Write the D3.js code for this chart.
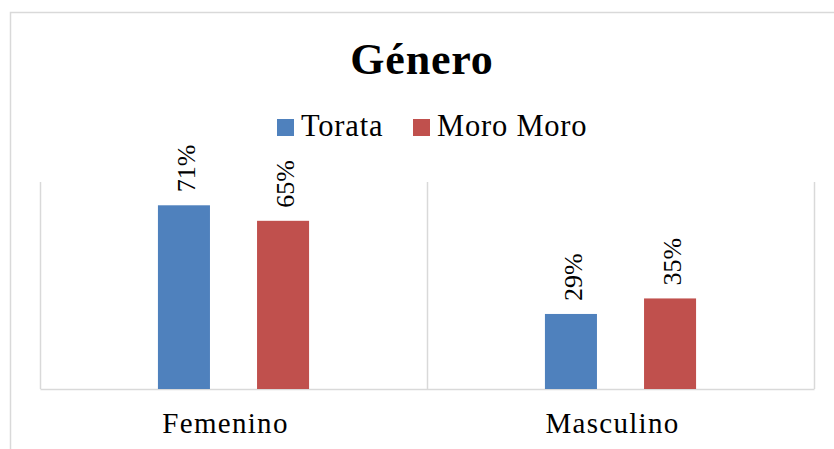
<!DOCTYPE html>
<meta charset="utf-8" />
<script src="https://d3js.org/d3.v7.min.js"></script>
<body style="margin:0;background:#fff">
  <div id="my_dataviz"></div>
  <script>
    // chart data
    const categories = ["Femenino", "Masculino"];
    const seriesNames = ["Torata", "Moro Moro"];
    const torata = [0.71, 0.29];
    const moroMoro = [0.65, 0.35];
    const colors = ["#4F81BD", "#C0504D"];

    const data = categories.map(function (c, i) {
      return { category: c, values: [torata[i], moroMoro[i]] };
    });

    const W = 834, H = 449;
    const font = "'Liberation Serif', 'Times New Roman', serif";

    const svg = d3
      .select("#my_dataviz")
      .append("svg")
      .attr("width", W)
      .attr("height", H)
      .style("display", "block");

    // outer chart border (runs past the right/bottom edge)
    svg
      .append("rect")
      .attr("x", 10.5)
      .attr("y", 12.5)
      .attr("width", 900)
      .attr("height", 600)
      .attr("fill", "none")
      .attr("stroke", "#d9d9d9")
      .attr("stroke-width", 1.5);

    // plot area
    const plotLeft = 40, plotRight = 814, plotTop = 182, plotBottom = 389;

    const x = d3.scaleBand().domain(categories).range([plotLeft, plotRight]).padding(0);
    const xInner = d3
      .scaleBand()
      .domain(d3.range(seriesNames.length))
      .range([0, x.bandwidth()])
      .paddingInner(0.475)
      .paddingOuter(1.19);
    const y = d3.scaleLinear().domain([0, 0.8]).range([plotBottom, plotTop]);

    // vertical category separators
    const seps = [plotLeft].concat(categories.map(function (c) { return x(c) + x.bandwidth(); }));
    svg
      .selectAll(".sep")
      .data(seps)
      .enter()
      .append("line")
      .attr("x1", function (d) { return Math.round(d) + 0.5; })
      .attr("x2", function (d) { return Math.round(d) + 0.5; })
      .attr("y1", plotTop)
      .attr("y2", plotBottom)
      .attr("stroke", "#d9d9d9")
      .attr("stroke-width", 1.5);

    // category axis
    const xAxis = svg
      .append("g")
      .attr("transform", "translate(0," + plotBottom + ")")
      .call(d3.axisBottom(x).tickSize(0).tickPadding(0));
    xAxis.select(".domain").attr("stroke", "#d9d9d9").attr("stroke-width", 1.5);
    xAxis
      .selectAll("text")
      .attr("y", 44)
      .attr("dy", 0)
      .attr("dx", -8)
      .style("font-family", font)
      .style("font-size", "29px")
      .style("letter-spacing", "1.3px")
      .attr("fill", "#000");

    // bars
    const groups = svg
      .selectAll(".cat")
      .data(data)
      .enter()
      .append("g")
      .attr("transform", function (d) { return "translate(" + x(d.category) + ",0)"; });

    groups
      .selectAll("rect")
      .data(function (d) { return d.values; })
      .enter()
      .append("rect")
      .attr("x", function (d, i) { return xInner(i); })
      .attr("y", function (d) { return y(d); })
      .attr("width", xInner.bandwidth())
      .attr("height", function (d) { return plotBottom - y(d); })
      .attr("fill", function (d, i) { return colors[i]; });

    // rotated data labels
    groups
      .selectAll(".lbl")
      .data(function (d) { return d.values; })
      .enter()
      .append("text")
      .attr("transform", function (d, i) {
        return "translate(" + (xInner(i) + xInner.bandwidth() / 2 + 2) + "," + (y(d) - 13) + ") rotate(-90)";
      })
      .attr("dy", "0.35em")
      .attr("text-anchor", "start")
      .style("font-family", font)
      .style("font-size", "26px")
      .text(function (d) { return Math.round(d * 100) + "%"; });

    // title
    svg
      .append("text")
      .attr("x", 422)
      .attr("y", 74)
      .attr("text-anchor", "middle")
      .style("font-family", font)
      .style("font-weight", "bold")
      .style("font-size", "44px")
      .style("letter-spacing", "0.8px")
      .text("Género");

    // legend
    const legendX = [277, 413];
    const legend = svg
      .selectAll(".legend")
      .data(seriesNames)
      .enter()
      .append("g")
      .attr("transform", function (d, i) { return "translate(" + legendX[i] + ",119)"; });
    legend
      .append("rect")
      .attr("width", 17)
      .attr("height", 17)
      .attr("fill", function (d, i) { return colors[i]; });
    legend
      .append("text")
      .attr("x", 24)
      .attr("y", 17)
      .style("font-family", font)
      .style("font-size", "30.5px")
      .style("letter-spacing", "0.8px")
      .text(function (d) { return d; });
  </script>
</body>
